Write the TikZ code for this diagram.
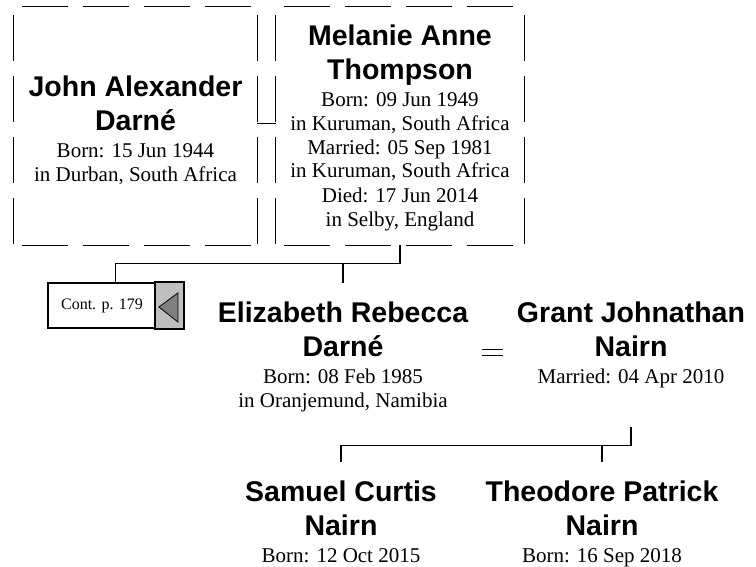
\documentclass[tikz,border=0pt]{standalone}
\usepackage{fontspec}
\setmainfont{Liberation Serif}
\newfontfamily\namefam{Liberation Sans}
\usepackage{tikz}
\newcommand{\nm}[1]{{\namefam\bfseries\fontsize{28.5pt}{34pt}\selectfont\rule[-9pt]{0pt}{34pt}#1}}
\newcommand{\dt}[1]{{\fontsize{21pt}{24pt}\selectfont\rule[-6pt]{0pt}{24pt}#1}}

\begin{document}
\begin{tikzpicture}[
  x=1pt, y=-1pt,
  every node/.style={font={\baselineskip=0pt\lineskip=0pt\lineskiplimit=0pt}},
  couple/.style={align=center, inner sep=0pt, minimum height=238pt},
  member/.style={align=center, inner xsep=14pt, inner ysep=14pt, anchor=north},
  dashside/.style={line width=0.8pt, dash pattern=on 46pt off 15pt, dash phase=53pt},
  conn/.style={line width=1.3pt},
  wed/.style={double, line width=0.8pt, double distance=1.9pt},
  wedlow/.style={double, line width=1.2pt, double distance=4.8pt},
  contbox/.style={draw, line width=1.8pt, fill=white, minimum width=135pt,
    minimum height=45pt, inner sep=0pt, font=\fontsize{16pt}{19pt}\selectfont},
  contpanel/.style={fill=gray!50, draw=black, line width=1.2pt},
  contarrow/.style={fill=gray, draw=black, line width=0.8pt},
]
\useasboundingbox (0,0) rectangle (756,567);

\node[couple, minimum width=243pt] at (135.5,126) (john)
  {\nm{\rule{0pt}{33pt}John Alexander}\\\nm{Darné}\\\dt{Born: 15 Jun 1944}\\\dt{in Durban, South Africa}};
\node[couple, minimum width=248pt] at (400,126) (melanie)
  {\nm{Melanie Anne}\\\nm{Thompson}\\\dt{Born: 09 Jun 1949}\\\dt{in Kuruman, South Africa}\\
   \dt{Married: 05 Sep 1981}\\\dt{in Kuruman, South Africa}\\\dt{Died: 17 Jun 2014}\\\dt{in Selby, England}};

\foreach \p in {john,melanie} {
  \draw[dashside] (\p.north west) -- (\p.north east);
  \draw[dashside] (\p.south west) -- (\p.south east);
  \draw[dashside] (\p.north west) -- (\p.south west);
  \draw[dashside] (\p.north east) -- (\p.south east);
}
\draw[wed] ([yshift=1.3pt]john.east) -- ([yshift=1.3pt]melanie.west);

\node[contbox] at (115.5,305.5) (cont) {Cont. p. 179\rule{27pt}{0pt}};
\filldraw[contpanel] ([xshift=-29pt]cont.north east) rectangle (cont.south east);
\filldraw[contarrow] ([xshift=-25pt,yshift=-1.5pt]cont.east) -- ([xshift=-6pt,yshift=12.5pt]cont.east)
  -- ([xshift=-6pt,yshift=-16.5pt]cont.east) -- cycle;

\node[member] at (343,283) (eliz)
  {\nm{Elizabeth Rebecca}\\\nm{Darné}\\\dt{Born: 08 Feb 1985}\\\dt{in Oranjemund, Namibia}};
\node[member] at (631,283) (grant)
  {\nm{Grant Johnathan}\\\nm{Nairn}\\\dt{Married: 04 Apr 2010}};
\draw[wedlow] ([yshift=3pt]eliz.east) -- ([yshift=3pt]eliz.east -| grant.west);

\node[member] at (341,462) (samuel)
  {\nm{Samuel Curtis}\\\nm{Nairn}\\\dt{Born: 12 Oct 2015}};
\node[member] at (602,462) (theo)
  {\nm{Theodore Patrick}\\\nm{Nairn}\\\dt{Born: 16 Sep 2018}};

\draw[conn] (melanie.south) -- ++(0,18) coordinate (bar1) -| (cont.north);
\draw[conn] (bar1) -| (eliz.north);
\draw[conn] (eliz.south -| grant.south) -- ++(0,18) coordinate (bar2) -| (samuel.north);
\draw[conn] (bar2) -| (theo.north);
\end{tikzpicture}
\end{document}
